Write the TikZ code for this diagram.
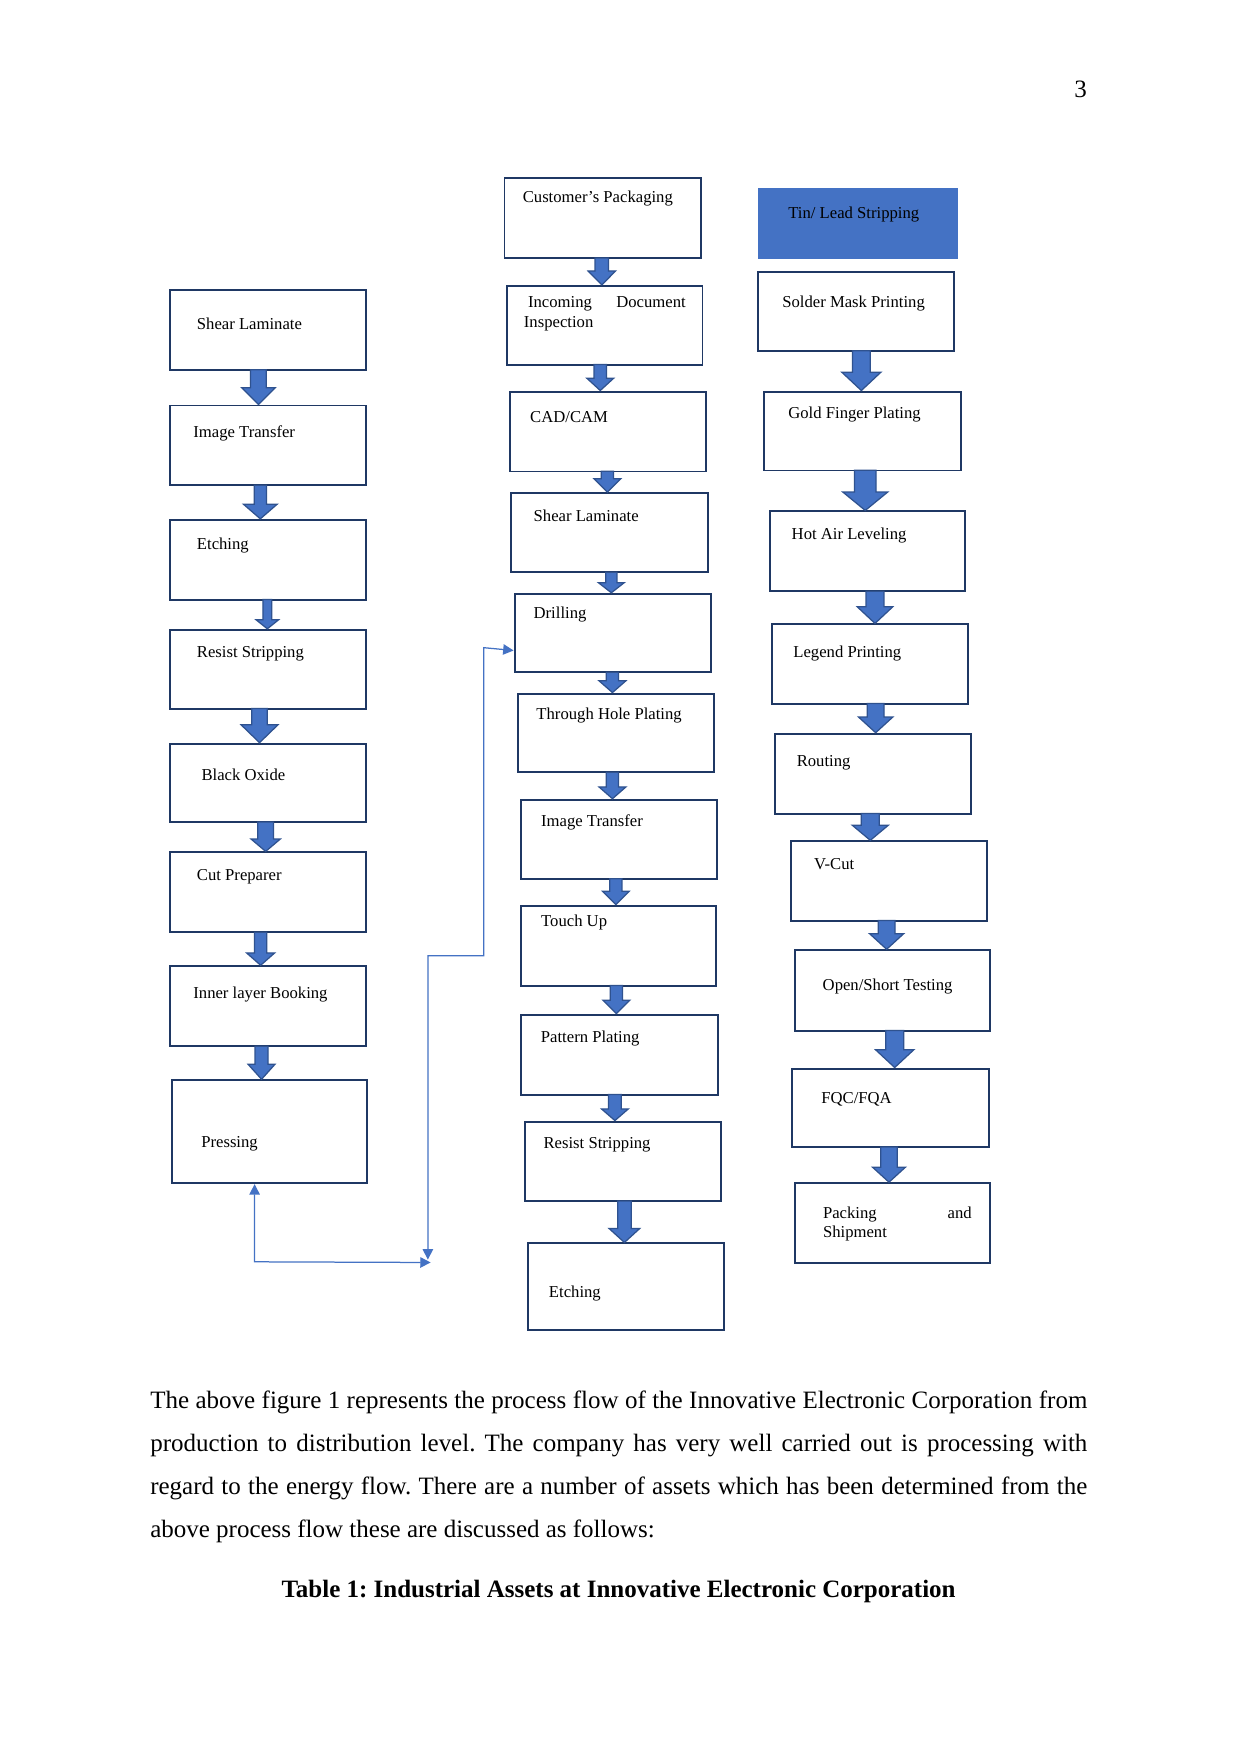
\documentclass[tikz,border=0pt]{standalone}
\usepackage{fontspec}
\setmainfont{Liberation Serif}
\usetikzlibrary{calc,fit,arrows.meta}
\definecolor{boxline}{RGB}{31,56,100}
\definecolor{office}{RGB}{68,114,196}
\definecolor{arrline}{RGB}{47,82,143}
\frenchspacing
\tikzset{
  pbx/.style={draw=boxline, line width=0.95pt, inner sep=0pt, rectangle},
  tinbx/.style={fill=office, draw=office},
  lbl/.style={inner sep=0pt, font=\fontsize{8}{9.2}\selectfont, text=black},
  barr/.style={fill=office, draw=arrline, line width=0.6pt, line join=miter},
  conn/.style={draw=office, line width=0.6pt},
  bodytxt/.style={inner sep=0pt, font=\fontsize{12}{14}\selectfont},
  tip/.tip={Triangle[length=5pt,width=5pt]}
}
% block arrow: from, to, x, half shaft, half head, head length
\newcommand\barrow[6]{%
  \coordinate (bx) at (#3,0);
  \filldraw[barr] ($(#1.south -| bx)+(-#4,-1)$) -- ($(#1.south -| bx)+(#4,-1)$)
    -- ($(#2.north -| bx)+(#4,-#6)$) -- ($(#2.north -| bx)+(#5,-#6)$)
    -- (#2.north -| bx) -- ($(#2.north -| bx)+(-#5,-#6)$)
    -- ($(#2.north -| bx)+(-#4,-#6)$) -- cycle;}
\newcommand\pbox[6][]{\node[pbx,#1, fit={(#3,#4) (#5,#6)}] (#2) {};}
\newcommand\ptext[4]{\node[lbl, anchor=base west] (#1) at (#2,#3) {#4};}
\begin{document}
\begin{tikzpicture}[x=0.5372pt, y=-0.5372pt]
\useasboundingbox[fill=white] (0,0) rectangle (1109,1568);

% page number
\node[bodytxt, anchor=base east] (pg) at (972,87) {3};

% ---------- column 1 ----------
\pbox{a1}{151.6}{259}{327}{330.6}
\pbox{a2}{151.6}{362.5}{327}{434}
\pbox{a3}{151.6}{464.7}{327}{536}
\pbox{a4}{151.6}{563}{327}{633.5}
\pbox{a5}{151.6}{664.8}{327}{735}
\pbox{a6}{151.6}{762}{327}{833.4}
\pbox{a7}{151.6}{863.8}{327}{935.3}
\pbox{a8}{153.6}{965.7}{328.3}{1057.7}
\ptext{a1t}{175.7}{294.9}{Shear Laminate}
\ptext{a2t}{172.5}{390.8}{Image Transfer}
\ptext{a3t}{175.7}{491.5}{Etching}
\ptext{a4t}{175.7}{587.4}{Resist Stripping}
\ptext{a5t}{179.8}{697.9}{Black Oxide}
\ptext{a6t}{175.7}{787.2}{Cut Preparer}
\ptext{a7t}{172.5}{892.5}{Inner layer Booking}
\ptext{a8t}{179.6}{1026}{Pressing}

% ---------- column 2 ----------
\pbox{b1}{451}{159.3}{627}{230.8}
\pbox{b2}{453}{255.6}{628}{325.9}
\pbox{b3}{455.7}{350}{630.8}{421.5}
\pbox{b4}{456.6}{440.8}{632.7}{511.7}
\pbox{b5}{460}{530.8}{635.3}{601}
\pbox{b6}{462.9}{620}{638}{690.5}
\pbox{b7}{465.5}{714.9}{641}{785.7}
\pbox{b8}{465.5}{809.6}{640}{881}
\pbox{b9}{466.1}{907}{641.6}{978.5}
\pbox{b10}{469.5}{1002.6}{644.5}{1073.8}
\pbox{b11}{472.2}{1111.6}{647.3}{1189.3}
\ptext{b1t}{467}{181.1}{Customer’s Packaging}
\node[lbl, anchor=north west, align=left] (b2t) at (468,265)
  {\hspace*{2pt}\makebox[75.7pt][s]{Incoming Document}\\Inspection};
\ptext{b3t}{473.6}{377.4}{CAD/CAM}
\ptext{b4t}{476.7}{466}{Shear Laminate}
\ptext{b5t}{476.7}{553.1}{Drilling}
\ptext{b6t}{479.2}{642.8}{Through Hole Plating}
\ptext{b7t}{483.4}{738.7}{Image Transfer}
\ptext{b8t}{483.4}{828.1}{Touch Up}
\ptext{b9t}{483.2}{931.7}{Pattern Plating}
\ptext{b10t}{485.6}{1026.7}{Resist Stripping}
\ptext{b11t}{490.4}{1160.1}{Etching}

% ---------- column 3 ----------
\pbox[tinbx]{c0}{678.2}{169.2}{855.4}{230.3}
\pbox{c1}{677.6}{242.8}{852.5}{313.6}
\pbox{c2}{683.3}{350}{858.7}{420.6}
\pbox{c3}{688}{457.2}{862.3}{528.7}
\pbox{c4}{690.4}{558.2}{865.3}{629}
\pbox{c5}{693.1}{655.9}{868.3}{727.4}
\pbox{c6}{707.4}{752.1}{882}{823}
\pbox{c7}{710.4}{849.5}{884.6}{921.3}
\pbox{c8}{708.3}{955.2}{884}{1025.5}
\pbox{c9}{710.4}{1057.7}{884.6}{1129.2}
\ptext{c0t}{704.4}{195.1}{Tin/ Lead Stripping}
\ptext{c1t}{699}{274.6}{Solder Mask Printing}
\ptext{c2t}{704.4}{374.4}{Gold Finger Plating}
\ptext{c3t}{707.4}{482.5}{Hot Air Leveling}
\ptext{c4t}{708.9}{587.4}{Legend Printing}
\ptext{c5t}{711.9}{685}{Routing}
\ptext{c6t}{727.4}{777.4}{V-Cut}
\ptext{c7t}{735.1}{885.2}{Open/Short Testing}
\ptext{c8t}{733.9}{986.8}{FQC/FQA}
\node[lbl, anchor=north west, align=left] (c9t) at (735.4,1078.5)
  {\makebox[71.4pt][s]{Packing and}\\Shipment};

% ---------- block arrows ----------
\barrow{a1}{a2}{231}{7}{15}{15}
\barrow{a2}{a3}{232.7}{5.5}{15}{13}
\barrow{a3}{a4}{239}{4}{10}{8}
\barrow{a4}{a5}{232}{7}{16.5}{16}
\barrow{a5}{a6}{237.5}{7}{13}{11}
\barrow{a6}{a7}{233}{5.5}{12.5}{11}
\barrow{a7}{a8}{233.8}{5.8}{12}{13.4}
\barrow{b1}{b2}{538}{6}{12.3}{12.5}
\barrow{b2}{b3}{536.6}{5.5}{12}{11}
\barrow{b3}{b4}{543}{5.5}{12}{12}
\barrow{b4}{b5}{546.5}{5}{11.5}{9}
\barrow{b5}{b6}{547.5}{5.5}{12}{10.5}
\barrow{b6}{b7}{547.5}{5.5}{12}{10.5}
\barrow{b7}{b8}{550.5}{5.5}{12}{12}
\barrow{b8}{b9}{551}{5.5}{12}{12}
\barrow{b9}{b10}{549.7}{5.7}{12}{10.4}
\barrow{b10}{b11}{558.2}{6}{13.7}{12.5}
\barrow{c1}{c2}{770}{8}{17.5}{16.4}
\barrow{c2}{c3}{773.5}{9.7}{20}{16.4}
\barrow{c3}{c4}{782.2}{8}{16}{15}
\barrow{c4}{c5}{782.8}{7.5}{15.3}{14}
\barrow{c5}{c6}{778}{8}{16}{13.4}
\barrow{c6}{c7}{792.6}{7.5}{15.3}{14}
\barrow{c7}{c8}{799.8}{8}{17}{15.8}
\barrow{c8}{c9}{794.7}{7.3}{14.7}{13.4}

% ---------- thin connectors ----------
\coordinate (cA) at (227.6,1128);
\coordinate (cB) at (385,1128.6);
\coordinate (cC) at (382.5,1126);
\coordinate (cD) at (382.5,854.5);
\coordinate (cE) at (432.5,854.5);
\coordinate (cF) at (432.5,579);
\draw[conn, tip-tip] (a8.south -| cA) -- (cA) -- (cB);
\draw[conn, tip-tip] (cC) -- (cD) -- (cE) -- (cF) -- ($(b5.west |- cF)+(0,2.5)$);

% ---------- body text ----------
\node[bodytxt, anchor=base west] (p1) at (134,1259)
  {\makebox[450pt][s]{The above figure 1 represents the process flow of the Innovative Electronic Corporation from}};
\node[bodytxt, anchor=base west] (p2) at (134,1297.3)
  {\makebox[450pt][s]{production to distribution level. The company has very well carried out is processing with}};
\node[bodytxt, anchor=base west] (p3) at (134,1335.6)
  {\makebox[450pt][s]{regard to the energy flow. There are a number of assets which has been determined from the}};
\node[bodytxt, anchor=base west] (p4) at (134,1374)
  {above process flow these are discussed as follows:};
\node[bodytxt, anchor=base] (cap) at (553,1428)
  {\textbf{Table 1: Industrial Assets at Innovative Electronic Corporation}};
\end{tikzpicture}
\end{document}
